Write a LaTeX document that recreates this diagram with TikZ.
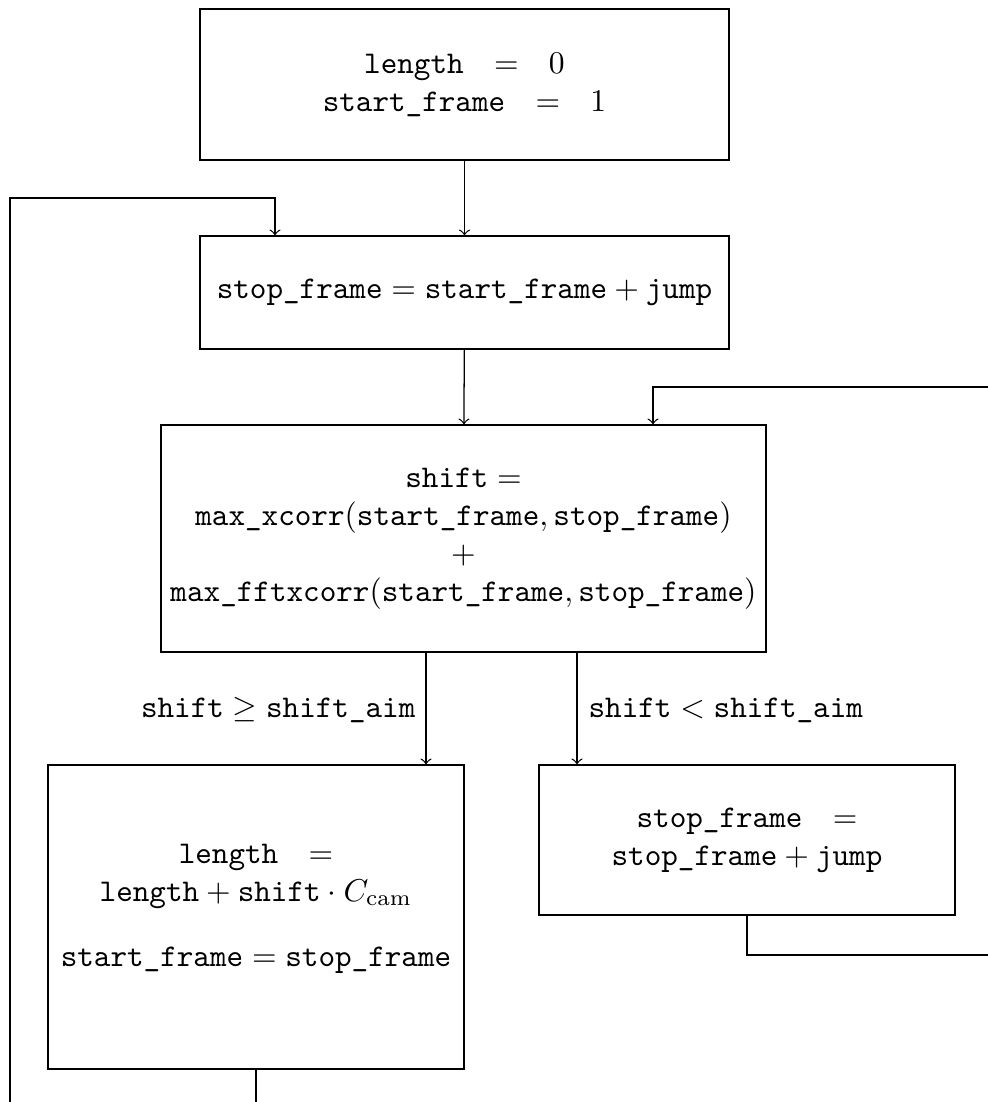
\documentclass[tikz,border=0pt]{standalone}
\usepackage{fontspec}
\def\px{0.3165pt}
\newcommand{\tv}[1]{\texttt{#1}}
\newcommand{\wideeq}{\hspace{9.6pt}$=$\hspace{9.6pt}}
\begin{document}
\begin{tikzpicture}[x=\px,y=-\px,
  stepbox/.style={draw, rectangle, inner sep=0pt, align=center, line width=0.4pt},
  steptext/.style={inner sep=0pt, align=center},
  flow/.style={->, line width=0.4pt},
  cond/.style={inner sep=0pt}]
\useasboundingbox (0,0) rectangle (988,1102);
\clip (0,0) rectangle (988,1102);

% process boxes
\node[stepbox, minimum width=529*\px, minimum height=151*\px] (init) at (464.5,84.5)
  {\tv{length}\wideeq$0$\\ \tv{start\_frame}\wideeq$1$};
\node[stepbox, minimum width=529*\px, minimum height=113*\px] (stop) at (464.5,292.5)
  {$\tv{stop\_frame} = \tv{start\_frame} + \tv{jump}$};
\node[stepbox, minimum width=605*\px, minimum height=227*\px] (shift) at (463.5,538.5)
  {$\tv{shift} =$\\
   $\tv{max\_xcorr}(\tv{start\_frame},\tv{stop\_frame})$\\
   $+$\\
   $\tv{max\_fftxcorr}(\tv{start\_frame},\tv{stop\_frame})$};
\node[stepbox, minimum width=416*\px, minimum height=304*\px] (acc) at (256,917) {};
\node[steptext] (accText) at (256,908.5)
  {\tv{length}\wideeq\\
   $\tv{length} + \tv{shift}\cdot C_{\mathrm{cam}}$\\[8.5pt]
   $\tv{start\_frame} = \tv{stop\_frame}$};
\node[stepbox, minimum width=416*\px, minimum height=150*\px] (grow) at (747,840)
  {\tv{stop\_frame}\wideeq\\ $\tv{stop\_frame} + \tv{jump}$};

% branch conditions
\node[cond, anchor=east] (ge) at (416,710) {$\tv{shift} \geq \tv{shift\_aim}$};
\node[cond, anchor=west] (lt) at (588,710) {$\tv{shift} < \tv{shift\_aim}$};

% routing points
\coordinate (lx) at (426,0);
\coordinate (rx) at (577,0);
\coordinate (loopB) at (10,1130);
\coordinate (loopT) at (10,198);
\coordinate (inB) at (275,198);
\coordinate (loopR) at (1010,955);
\coordinate (loopRT) at (1010,387);
\coordinate (inS) at (653,387);

% connectors
\draw[flow] (init) -- (stop);
\draw[flow] (stop) -- (shift);
\draw[flow] (lx |- shift.south) -- (lx |- acc.north);
\draw[flow] (rx |- shift.south) -- (rx |- grow.north);
\draw[flow] (grow.south) |- (loopR) -- (loopRT) -- (inS) -- (inS |- shift.north);
\draw[flow] (acc.south) |- (loopB) -- (loopT) -- (inB) -- (inB |- stop.north);
\end{tikzpicture}
\end{document}
